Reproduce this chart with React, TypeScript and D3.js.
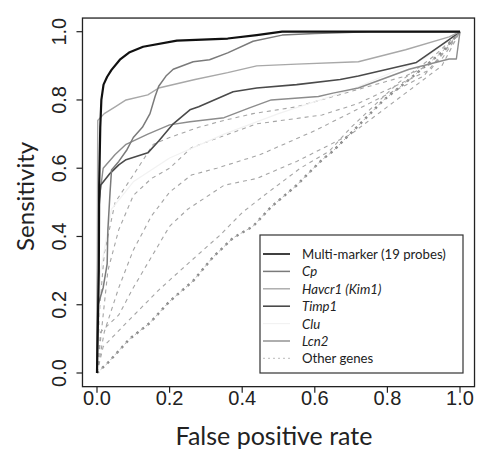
import React from "react";
import * as d3 from "d3";

type Pt = [number, number];

const xTicks = [0, 0.2, 0.4, 0.6, 0.8, 1.0];
const yTicks = [0, 0.2, 0.4, 0.6, 0.8, 1.0];

const multiMarker: Pt[] = [[0,0],[0.005,0.3],[0.006,0.55],[0.009,0.72],[0.012,0.8],[0.018,0.845],[0.028,0.868],[0.04,0.888],[0.063,0.918],[0.09,0.94],[0.127,0.956],[0.22,0.974],[0.36,0.98],[0.44,0.99],[0.51,1],[0.7,1],[1,1]];
const cp: Pt[] = [[0,0],[0.003,0.2],[0.017,0.25],[0.028,0.32],[0.03,0.42],[0.036,0.53],[0.04,0.595],[0.06,0.62],[0.083,0.655],[0.1,0.69],[0.125,0.72],[0.146,0.76],[0.16,0.81],[0.17,0.84],[0.19,0.87],[0.21,0.89],[0.265,0.912],[0.31,0.918],[0.36,0.938],[0.43,0.972],[0.51,0.99],[0.6,0.995],[0.75,1],[1,1]];
const havcr1: Pt[] = [[0,0],[0.002,0.74],[0.02,0.76],[0.05,0.78],[0.08,0.8],[0.14,0.815],[0.17,0.835],[0.27,0.86],[0.36,0.88],[0.44,0.9],[0.55,0.905],[0.72,0.912],[0.85,0.947],[0.97,0.985],[1,1]];
const timp1: Pt[] = [[0,0],[0.003,0.45],[0.01,0.55],[0.036,0.585],[0.06,0.61],[0.08,0.625],[0.14,0.645],[0.17,0.68],[0.21,0.73],[0.256,0.771],[0.28,0.78],[0.375,0.824],[0.44,0.835],[0.55,0.845],[0.67,0.86],[0.72,0.87],[0.88,0.91],[0.97,0.977],[1,1]];
const clu: Pt[] = [[0,0],[0.01,0.3],[0.04,0.48],[0.1,0.56],[0.2,0.63],[0.35,0.7],[0.5,0.76],[0.7,0.83],[0.9,0.92],[1,1]];
const lcn2: Pt[] = [[0,0],[0.005,0.5],[0.017,0.6],[0.05,0.64],[0.08,0.67],[0.14,0.7],[0.2,0.727],[0.256,0.736],[0.35,0.748],[0.42,0.777],[0.48,0.8],[0.61,0.81],[0.65,0.82],[0.72,0.835],[0.86,0.89],[0.97,0.92],[0.99,0.92],[1,1]];

const other1: Pt[] = [[0,0],[0.008,0.2],[0.02,0.35],[0.04,0.45],[0.05,0.5],[0.1,0.58],[0.155,0.67],[0.2,0.69],[0.28,0.72],[0.35,0.74],[0.43,0.76],[0.55,0.78],[0.65,0.81],[0.75,0.84],[0.85,0.87],[0.95,0.92],[1,1]];
const other2: Pt[] = [[0,0],[0.01,0.1],[0.03,0.3],[0.06,0.42],[0.1,0.52],[0.15,0.57],[0.2,0.6],[0.26,0.66],[0.31,0.68],[0.44,0.73],[0.62,0.756],[0.72,0.79],[0.82,0.84],[0.92,0.89],[1,1]];
const other3: Pt[] = [[0,0],[0.02,0.12],[0.06,0.25],[0.1,0.36],[0.15,0.46],[0.2,0.53],[0.26,0.58],[0.33,0.6],[0.45,0.64],[0.6,0.71],[0.75,0.79],[0.9,0.87],[1,1]];
const other4: Pt[] = [[0,0],[0.01,0.12],[0.06,0.17],[0.1,0.25],[0.15,0.34],[0.2,0.43],[0.25,0.48],[0.35,0.55],[0.44,0.57],[0.55,0.62],[0.7,0.7],[0.85,0.82],[0.95,0.9],[1,1]];
const other5: Pt[] = [[0,0],[0.017,0.077],[0.08,0.146],[0.17,0.243],[0.25,0.32],[0.34,0.405],[0.4,0.47],[0.46,0.52],[0.56,0.6],[0.64,0.65],[0.7,0.72],[0.83,0.85],[0.93,0.93],[1,1]];
const other6: Pt[] = [[0,0],[0.03,0.03],[0.09,0.1],[0.146,0.147],[0.2,0.21],[0.265,0.27],[0.32,0.34],[0.375,0.396],[0.43,0.43],[0.48,0.487],[0.55,0.55],[0.62,0.625],[0.65,0.65],[0.79,0.8],[0.86,0.86],[0.95,0.94],[1,1]];

const otherGenes: Pt[][] = [other1, other2, other3, other4, other5];

const legendLabels = ["Multi-marker (19 probes)", "Cp", "Havcr1 (Kim1)", "Timp1", "Clu", "Lcn2", "Other genes"];
const legendItalic = [false, true, true, true, true, true, false];

const styles = [
  { stroke: "#111", width: 2.2, dash: "" },
  { stroke: "#7a7a7a", width: 1.5, dash: "" },
  { stroke: "#a8a8a8", width: 1.4, dash: "" },
  { stroke: "#4a4a4a", width: 1.6, dash: "" },
  { stroke: "#f2f2f2", width: 1.2, dash: "" },
  { stroke: "#8c8c8c", width: 1.4, dash: "" },
  { stroke: "#c8c8c8", width: 1.2, dash: "2,3" },
];

export default function App() {
  const W = 478, H = 451;
  const x = d3.scaleLinear().domain([0, 1]).range([97, 460]);
  const y = d3.scaleLinear().domain([0, 1]).range([373, 31.7]);
  const line = d3.line<Pt>().x(d => x(d[0])).y(d => y(d[1]));
  const x0 = x(-0.04), x1 = x(1.04), yTop = y(1.04), yBot = y(-0.04);
  const tickFont = "'Liberation Sans', Arial, sans-serif";
  const titleFont = "Lato, 'Open Sans', sans-serif";

  const legX = 260, legY = 235, legW = 203, legH = 138;
  const rowY0 = 254, rowStep = 17.4;

  const mainCurves: [Pt[], number][] = [[clu, 4], [lcn2, 5], [timp1, 3], [havcr1, 2], [cp, 1], [multiMarker, 0]];

  return (
    <svg width={W} height={H} style={{ position: "absolute", left: 0, top: 0, background: "#fff" }}>
      <rect x={0} y={0} width={W} height={H} fill="#fff" />
      {otherGenes.map((c, i) => (
        <path key={"o" + i} d={line(c) || ""} fill="none" stroke="#a5a5a5" strokeWidth={1.1} strokeDasharray="4,4" />
      ))}
      <path d={line(other6) || ""} fill="none" stroke="#8a8a8a" strokeWidth={2.4} strokeDasharray="2.5,4.5" />
      <path d={line(other6) || ""} fill="none" stroke="#b5b5b5" strokeWidth={1} strokeDasharray="3,4" strokeDashoffset={2} />
      {mainCurves.map(([c, si], i) => (
        <path key={"m" + i} d={line(c) || ""} fill="none" stroke={styles[si].stroke} strokeWidth={styles[si].width} strokeLinejoin="round" />
      ))}
      <rect x={x0} y={yTop} width={x1 - x0} height={yBot - yTop} fill="none" stroke="#222" strokeWidth={1.3} />
      {xTicks.map(t => (
        <g key={"xt" + t}>
          <line x1={x(t)} x2={x(t)} y1={yBot} y2={yBot + 6} stroke="#222" strokeWidth={1.2} />
          <text x={x(t)} y={405} textAnchor="middle" fontFamily={tickFont} fontSize={20} fill="#222">{t.toFixed(1)}</text>
        </g>
      ))}
      {yTicks.map(t => (
        <g key={"yt" + t}>
          <line x1={x0} x2={x0 - 6} y1={y(t)} y2={y(t)} stroke="#222" strokeWidth={1.2} />
          <text transform={`translate(66,${y(t)}) rotate(-90)`} textAnchor="middle" fontFamily={tickFont} fontSize={20} fill="#222">{t.toFixed(1)}</text>
        </g>
      ))}
      <text x={274} y={445} textAnchor="middle" fontFamily={titleFont} fontSize={25} fill="#222">False positive rate</text>
      <text transform={`translate(34,${(yTop + yBot) / 2 - 6}) rotate(-90)`} textAnchor="middle" fontFamily={titleFont} fontSize={24} fill="#222">Sensitivity</text>
      <rect x={legX} y={legY} width={legW} height={legH} fill="#fff" stroke="#333" strokeWidth={1.2} />
      {legendLabels.map((lab, i) => {
        const ry = rowY0 + i * rowStep;
        const st = styles[i];
        return (
          <g key={"lg" + i}>
            <line x1={263} x2={290} y1={ry} y2={ry} stroke={st.stroke} strokeWidth={Math.min(st.width, 1.6)} strokeDasharray={st.dash} />
            <text x={302} y={ry + 5} fontFamily={titleFont} fontSize={13.2} fontStyle={legendItalic[i] ? "italic" : "normal"} fill="#222">{lab}</text>
          </g>
        );
      })}
    </svg>
  );
}
